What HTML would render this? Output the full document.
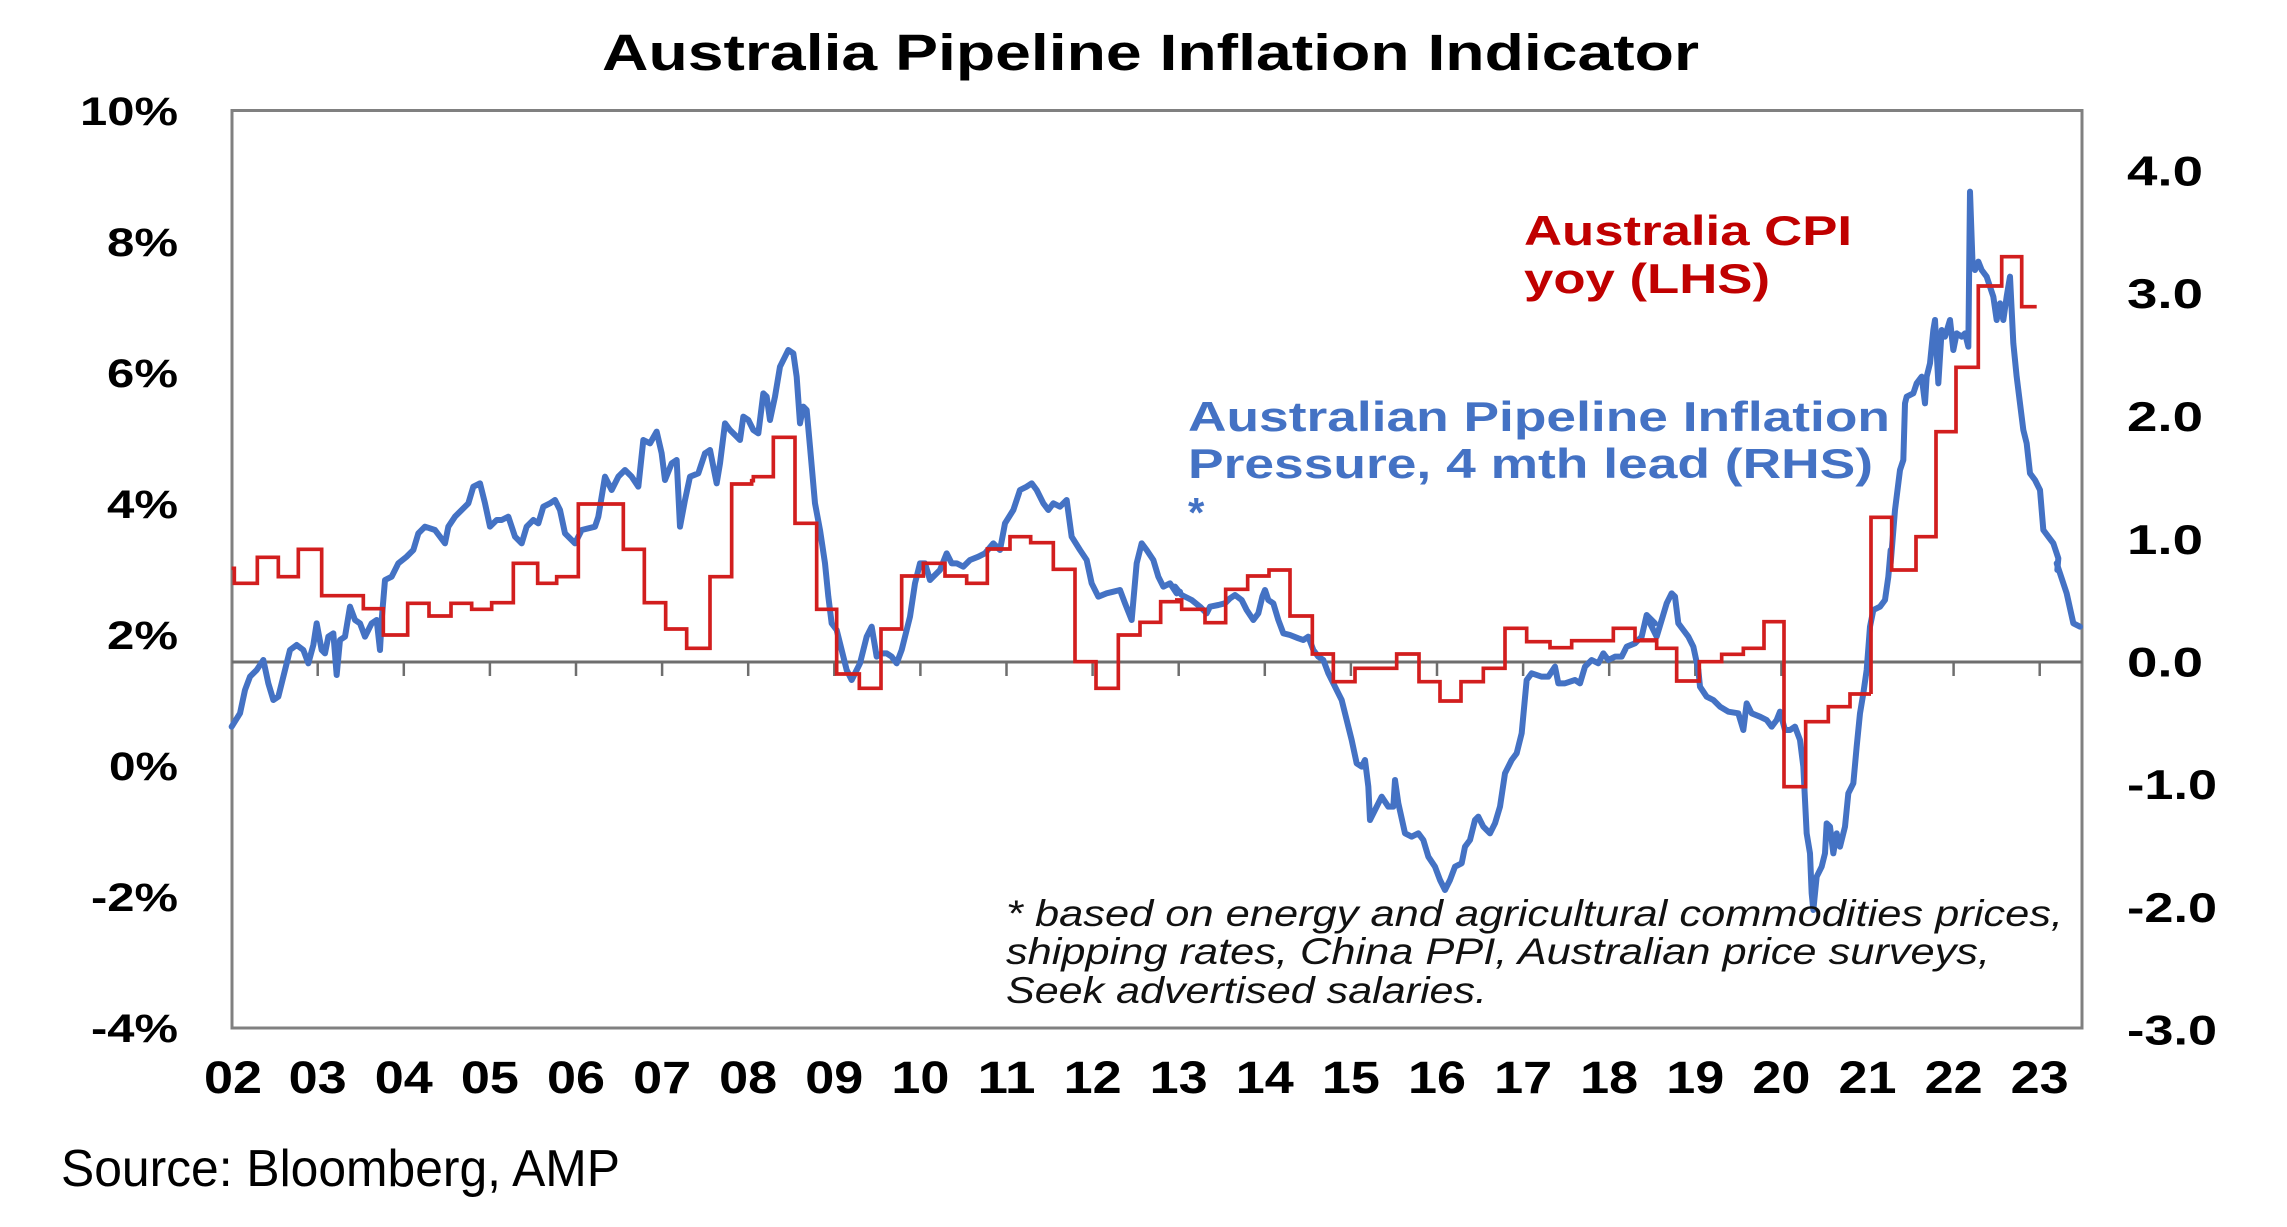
<!DOCTYPE html>
<html>
<head>
<meta charset="utf-8">
<style>
  html, body { margin: 0; padding: 0; background: #ffffff; }
  svg { display: block; }
  .ax { font-family: "Liberation Sans", Arial, sans-serif; font-weight: bold; fill: #000; }
</style>
</head>
<body>
<svg width="2287" height="1227" viewBox="0 0 2287 1227" xmlns="http://www.w3.org/2000/svg">
  <rect x="0" y="0" width="2287" height="1227" fill="#ffffff"/>

  <!-- Title -->
  <text x="602" y="70" font-family="Liberation Sans, Arial, sans-serif" font-weight="bold" font-size="51" textLength="1097" lengthAdjust="spacingAndGlyphs" fill="#000">Australia Pipeline Inflation Indicator</text>

  <!-- Plot frame -->
  <rect x="232" y="110.5" width="1850" height="917.5" fill="none" stroke="#808080" stroke-width="3"/>

  <!-- Zero line (RHS 0.0) -->
  <line x1="232" y1="662" x2="2082" y2="662" stroke="#6e6e6e" stroke-width="3"/>
  <g stroke="#6e6e6e" stroke-width="2.5">
    <line x1="317.7" y1="662" x2="317.7" y2="676"/>
    <line x1="403.8" y1="662" x2="403.8" y2="676"/>
    <line x1="489.9" y1="662" x2="489.9" y2="676"/>
    <line x1="576.0" y1="662" x2="576.0" y2="676"/>
    <line x1="662.1" y1="662" x2="662.1" y2="676"/>
    <line x1="748.2" y1="662" x2="748.2" y2="676"/>
    <line x1="834.3" y1="662" x2="834.3" y2="676"/>
    <line x1="920.4" y1="662" x2="920.4" y2="676"/>
    <line x1="1006.5" y1="662" x2="1006.5" y2="676"/>
    <line x1="1092.6" y1="662" x2="1092.6" y2="676"/>
    <line x1="1178.7" y1="662" x2="1178.7" y2="676"/>
    <line x1="1264.8" y1="662" x2="1264.8" y2="676"/>
    <line x1="1350.9" y1="662" x2="1350.9" y2="676"/>
    <line x1="1437.0" y1="662" x2="1437.0" y2="676"/>
    <line x1="1523.1" y1="662" x2="1523.1" y2="676"/>
    <line x1="1609.2" y1="662" x2="1609.2" y2="676"/>
    <line x1="1695.3" y1="662" x2="1695.3" y2="676"/>
    <line x1="1781.4" y1="662" x2="1781.4" y2="676"/>
    <line x1="1867.5" y1="662" x2="1867.5" y2="676"/>
    <line x1="1953.6" y1="662" x2="1953.6" y2="676"/>
    <line x1="2039.7" y1="662" x2="2039.7" y2="676"/>
  </g>

  <!-- Blue series: Pipeline inflation (RHS) -->
  <g fill="none" stroke="#4472C4" stroke-width="18" stroke-linejoin="round" stroke-linecap="round">
    <polyline transform="translate(225,330) scale(0.333333)" points="20,1190 45,1150 60,1080 75,1040 95,1020 115,990 130,1060 145,1110 160,1100 180,1020 195,960 215,945 235,960 250,1000 265,945 275,880 290,960 300,970 310,920 325,910 335,1035 345,930 360,920 375,830 390,870 405,880 420,920 440,880 455,870 465,960 470,870 480,750 500,740 520,700 545,680 565,660 580,610 600,590 630,600 660,640 670,590 690,560 710,540 730,520 745,470 765,460 780,520 795,590 815,570 830,570 850,560 870,620 890,640 905,590 925,570 940,580 955,530 975,520 990,510 1005,540 1020,610 1050,640 1070,600 1110,590 1120,560 1140,440 1160,480 1180,440 1200,420 1220,440 1240,470 1255,330 1275,340 1295,305 1310,370 1320,450 1340,400 1355,390 1365,590 1380,510 1395,440 1420,430 1440,370"/>
    <polyline transform="translate(700,330) scale(0.333333)" points="15,370 30,360 50,460 60,400 75,280 90,300 110,320 120,330 130,260 145,270 160,300 175,310 190,190 200,200 210,270 225,200 240,110 255,80 265,60 280,70 290,140 300,280 310,230 320,240 330,350 345,520 360,600 375,700 385,800 395,880 410,900 425,960 440,1020 455,1050 470,1020 480,1000 500,920 515,890 530,980 545,970 560,970 575,980 590,1000 605,960 615,920 630,860 645,760 660,700 675,700 690,750 700,740 720,720 740,670 755,700 770,700 790,710 810,690 835,680 855,670 880,640 900,660 915,580 940,540 960,480 980,470 995,460 1010,480 1030,520 1045,540 1060,520 1080,530 1100,510 1115,620 1140,660 1160,690 1175,760 1195,800 1220,790 1240,785 1260,780 1275,820 1295,870 1310,700 1325,640 1340,660 1360,690 1375,740 1390,770 1410,760 1430,790 1440,785"/>
    <polyline transform="translate(1175,520) scale(0.333333)" points="0,200 20,225 50,240 75,260 95,280 105,260 130,255 150,250 165,235 180,225 200,240 215,270 235,300 250,280 262,230 270,210 280,240 295,250 310,300 325,340 345,345 370,355 385,360 400,350 415,390 430,410 445,420 460,460 480,500 500,540 515,600 530,660 545,730 560,740 570,720 580,800 585,900 600,870 620,830 640,860 655,860 660,780 670,850 690,940 710,950 730,940 745,960 760,1010 780,1040 795,1080 810,1110 825,1080 840,1040 860,1030 870,980 885,960 900,900 910,890 925,920 945,940 960,910 975,860 990,760 1010,720 1025,700 1040,640 1055,480 1070,460 1100,470 1120,470 1140,440 1150,490 1170,490 1200,480 1215,490 1230,440 1250,420 1270,430 1285,400 1300,420 1320,410 1340,410 1355,380 1380,370 1400,350 1415,285 1430,300 1440,310"/>
    <polyline transform="translate(1640,560) scale(0.333333)" points="30,190 50,230 65,180 80,130 95,100 105,110 115,190 130,210 145,230 160,260 175,330 180,380 200,410 220,420 240,440 265,455 295,460 310,510 320,430 335,460 360,470 380,480 395,500 410,480 420,455 435,510 450,510 465,500 480,540 490,620 495,720 500,820 510,880 515,1000 520,1050 530,950 545,920 555,880 560,790 570,800 580,880 590,820 600,860 615,800 625,700 640,670 650,560 660,460 670,400 680,330 690,200 700,150 720,140 735,120 745,50 752,-30"/>
    <polyline transform="translate(1640,170) scale(0.333333)" points="752,1180 765,1020 780,900 790,870 795,700 800,680 820,670 830,640 845,620 855,700 860,620 870,580 880,480 885,450 895,640 905,480 915,500 930,450 940,540 950,490 965,500 975,490 985,530 990,65 998,290 1005,300 1015,275 1025,300 1040,320 1050,350 1060,380 1070,450 1080,400 1090,450 1100,380 1110,320 1120,520 1130,620 1140,700 1150,780 1160,820 1170,910 1185,930 1200,960 1210,1080 1225,1100 1240,1120 1255,1165 1252,1200"/>
    <polyline transform="translate(1640,560) scale(0.333333)" points="1250,10 1260,40 1280,100 1300,190 1320,200"/>
  </g>

  <!-- Red series: Australia CPI yoy (LHS) -->
  <g fill="none" stroke="#D21E1E" stroke-width="11" stroke-linejoin="miter">
    <path transform="translate(225,330) scale(0.333333)" d="M20,715 L28,715 L28,760 L97,760 L97,682 L160,682 L160,740 L220,740 L220,658 L290,658 L290,797 L415,797 L415,836 L475,836 L475,915 L548,915 L548,820 L612,820 L612,858 L678,858 L678,820 L740,820 L740,838 L800,838 L800,818 L865,818 L865,700 L938,700 L938,760 L995,760 L995,740 L1060,740 L1060,522 L1195,522 L1195,658 L1258,658 L1258,818 L1322,818 L1322,897 L1385,897 L1385,955 L1440,955"/>
    <path transform="translate(700,330) scale(0.333333)" d="M15,955 L30,955 L30,740 L95,740 L95,462 L155,462 L155,452 L160,452 L160,440 L220,440 L220,322 L285,322 L285,580 L350,580 L350,838 L410,838 L410,1032 L478,1032 L478,1075 L543,1075 L543,897 L605,897 L605,738 L670,738 L670,700 L735,700 L735,738 L800,738 L800,760 L862,760 L862,657 L930,657 L930,620 L992,620 L992,638 L1060,638 L1060,718 L1125,718 L1125,995 L1188,995 L1188,1075 L1255,1075 L1255,915 L1320,915 L1320,877 L1382,877 L1382,815 L1440,815"/>
    <path transform="translate(1175,520) scale(0.333333)" d="M0,240 L20,240 L20,268 L90,268 L90,308 L152,308 L152,208 L218,208 L218,168 L282,168 L282,150 L345,150 L345,288 L412,288 L412,402 L475,402 L475,485 L540,485 L540,445 L665,445 L665,402 L732,402 L732,485 L795,485 L795,543 L858,543 L858,485 L925,485 L925,445 L990,445 L990,325 L1055,325 L1055,365 L1125,365 L1125,383 L1190,383 L1190,362 L1315,362 L1315,325 L1380,325 L1380,362 L1440,362"/>
    <path transform="translate(1640,560) scale(0.333333)" d="M0,240 L50,240 L50,265 L110,265 L110,363 L178,363 L178,305 L245,305 L245,283 L310,283 L310,265 L372,265 L372,185 L432,185 L432,680 L497,680 L497,485 L565,485 L565,440 L630,440 L630,402 L693,402"/>
    <path stroke-width="3.7" d="M1871,694 L1871,517.3 L1891.7,517.3 L1891.7,570 L1916,570 L1916,536.7 L1936,536.7 L1936,431.7 L1956,431.7 L1956,367.3 L1978.3,367.3 L1978.3,286 L2001.7,286 L2001.7,256.7 L2021.7,256.7 L2021.7,306.7 L2036.7,306.7"/>
  </g>

  <!-- Left axis labels -->
  <g class="ax" font-size="40" text-anchor="end">
    <text x="178" y="125" textLength="98" lengthAdjust="spacingAndGlyphs">10%</text>
    <text x="178" y="256" textLength="71" lengthAdjust="spacingAndGlyphs">8%</text>
    <text x="178" y="387" textLength="71" lengthAdjust="spacingAndGlyphs">6%</text>
    <text x="178" y="518" textLength="71" lengthAdjust="spacingAndGlyphs">4%</text>
    <text x="178" y="649" textLength="71" lengthAdjust="spacingAndGlyphs">2%</text>
    <text x="178" y="780" textLength="69" lengthAdjust="spacingAndGlyphs">0%</text>
    <text x="178" y="911" textLength="87" lengthAdjust="spacingAndGlyphs">-2%</text>
    <text x="178" y="1042" textLength="87" lengthAdjust="spacingAndGlyphs">-4%</text>
  </g>

  <!-- Right axis labels -->
  <g class="ax" font-size="42">
    <text x="2127" y="185.5" textLength="76" lengthAdjust="spacingAndGlyphs">4.0</text>
    <text x="2127" y="308" textLength="76" lengthAdjust="spacingAndGlyphs">3.0</text>
    <text x="2127" y="431" textLength="76" lengthAdjust="spacingAndGlyphs">2.0</text>
    <text x="2127" y="554" textLength="76" lengthAdjust="spacingAndGlyphs">1.0</text>
    <text x="2127" y="676.5" textLength="76" lengthAdjust="spacingAndGlyphs">0.0</text>
    <text x="2127" y="799" textLength="90" lengthAdjust="spacingAndGlyphs">-1.0</text>
    <text x="2127" y="922" textLength="90" lengthAdjust="spacingAndGlyphs">-2.0</text>
    <text x="2127" y="1044.5" textLength="90" lengthAdjust="spacingAndGlyphs">-3.0</text>
  </g>

  <!-- X axis year labels -->
  <g class="ax" font-size="45">
    <text x="204" y="1093" textLength="58" lengthAdjust="spacingAndGlyphs">02</text>
    <text x="288.7" y="1093" textLength="58" lengthAdjust="spacingAndGlyphs">03</text>
    <text x="374.8" y="1093" textLength="58" lengthAdjust="spacingAndGlyphs">04</text>
    <text x="460.9" y="1093" textLength="58" lengthAdjust="spacingAndGlyphs">05</text>
    <text x="547.0" y="1093" textLength="58" lengthAdjust="spacingAndGlyphs">06</text>
    <text x="633.1" y="1093" textLength="58" lengthAdjust="spacingAndGlyphs">07</text>
    <text x="719.2" y="1093" textLength="58" lengthAdjust="spacingAndGlyphs">08</text>
    <text x="805.3" y="1093" textLength="58" lengthAdjust="spacingAndGlyphs">09</text>
    <text x="891.4" y="1093" textLength="58" lengthAdjust="spacingAndGlyphs">10</text>
    <text x="977.5" y="1093" textLength="58" lengthAdjust="spacingAndGlyphs">11</text>
    <text x="1063.6" y="1093" textLength="58" lengthAdjust="spacingAndGlyphs">12</text>
    <text x="1149.7" y="1093" textLength="58" lengthAdjust="spacingAndGlyphs">13</text>
    <text x="1235.8" y="1093" textLength="58" lengthAdjust="spacingAndGlyphs">14</text>
    <text x="1321.9" y="1093" textLength="58" lengthAdjust="spacingAndGlyphs">15</text>
    <text x="1408.0" y="1093" textLength="58" lengthAdjust="spacingAndGlyphs">16</text>
    <text x="1494.1" y="1093" textLength="58" lengthAdjust="spacingAndGlyphs">17</text>
    <text x="1580.2" y="1093" textLength="58" lengthAdjust="spacingAndGlyphs">18</text>
    <text x="1666.3" y="1093" textLength="58" lengthAdjust="spacingAndGlyphs">19</text>
    <text x="1752.4" y="1093" textLength="58" lengthAdjust="spacingAndGlyphs">20</text>
    <text x="1838.5" y="1093" textLength="58" lengthAdjust="spacingAndGlyphs">21</text>
    <text x="1924.6" y="1093" textLength="58" lengthAdjust="spacingAndGlyphs">22</text>
    <text x="2010.7" y="1093" textLength="58" lengthAdjust="spacingAndGlyphs">23</text>
  </g>

  <!-- Legend: red -->
  <g font-family="Liberation Sans, Arial, sans-serif" font-weight="bold" font-size="42" fill="#C00000">
    <text x="1524" y="245" textLength="328" lengthAdjust="spacingAndGlyphs">Australia CPI</text>
    <text x="1524" y="293" textLength="246" lengthAdjust="spacingAndGlyphs">yoy (LHS)</text>
  </g>

  <!-- Legend: blue -->
  <g font-family="Liberation Sans, Arial, sans-serif" font-weight="bold" font-size="42" fill="#4472C4">
    <text x="1188" y="431" textLength="702" lengthAdjust="spacingAndGlyphs">Australian Pipeline Inflation</text>
    <text x="1188" y="478" textLength="685" lengthAdjust="spacingAndGlyphs">Pressure, 4 mth lead (RHS)</text>
    <text x="1188" y="527">*</text>
  </g>

  <!-- Footnote -->
  <g font-family="Liberation Sans, Arial, sans-serif" font-style="italic" font-size="37" fill="#111">
    <text x="1006" y="926" textLength="1057" lengthAdjust="spacingAndGlyphs">* based on energy and agricultural commodities prices,</text>
    <text x="1006" y="964" textLength="984" lengthAdjust="spacingAndGlyphs">shipping rates, China PPI,  Australian price surveys,</text>
    <text x="1006" y="1003" textLength="481" lengthAdjust="spacingAndGlyphs">Seek advertised salaries.</text>
  </g>

  <!-- Source -->
  <text x="61" y="1186" font-family="Liberation Sans, Arial, sans-serif" font-size="52" fill="#000" textLength="559" lengthAdjust="spacingAndGlyphs">Source: Bloomberg, AMP</text>
</svg>
</body>
</html>
